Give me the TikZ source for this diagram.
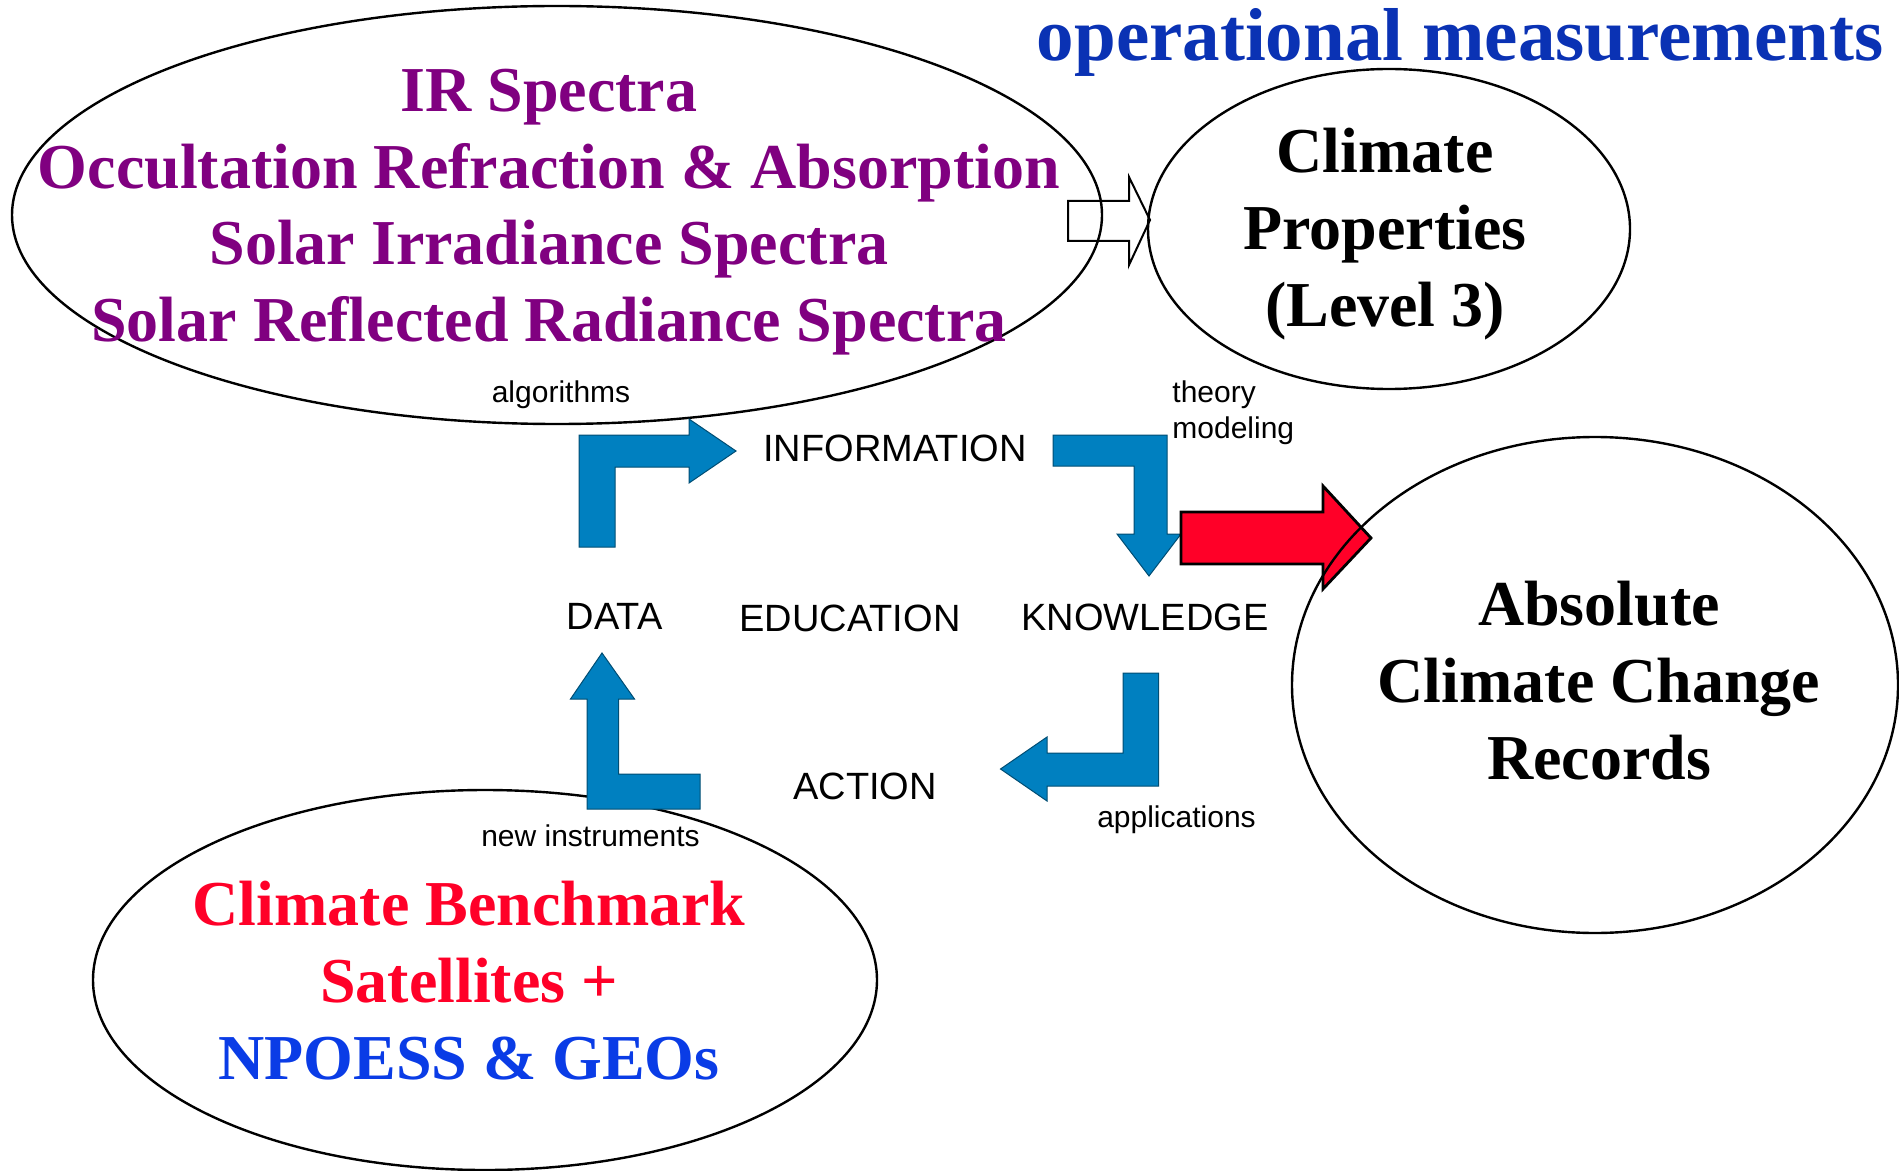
\documentclass[tikz,border=0pt]{standalone}
\usepackage{fontspec}
\setmainfont{Liberation Serif}
\setsansfont{Liberation Sans}
\definecolor{opblue}{RGB}{10,50,180}
\definecolor{specpurple}{RGB}{128,0,128}
\definecolor{benchred}{RGB}{255,0,40}
\definecolor{geoblue}{RGB}{10,60,230}
\definecolor{flowblue}{RGB}{0,128,192}
\tikzset{
  bubble/.style={line width=1.2pt},
  bigtext/.style={font=\fontsize{32}{38.3}\selectfont\bfseries,align=center,inner sep=0pt,anchor=north},
  cycletext/.style={font=\sffamily\fontsize{19}{22}\selectfont,inner sep=0pt},
  smalltext/.style={font=\sffamily\fontsize{15}{18}\selectfont,inner sep=0pt},
  flow/.style={fill=flowblue,draw=flowblue!60!black,line width=.5pt},
}

\begin{document}
\begin{tikzpicture}[x=.5pt,y=-.5pt]
 \useasboundingbox (0,0) rectangle (1899,1171);
 % the three outer bubbles and the observation bubble
 \draw[bubble] (557,215) ellipse [x radius=545,y radius=209];
 \draw[bubble] (1389,229) ellipse [x radius=241,y radius=160];
 \draw[bubble] (485,980) ellipse [x radius=392,y radius=190];
 \node[bigtext,text=specpurple] (spectra) at (549,69) {IR Spectra\\Occultation Refraction \& Absorption\\Solar Irradiance Spectra\\Solar Reflected Radiance Spectra};
 \node[bigtext] (props) at (1385,128) {Climate\\Properties\\(Level 3)};
 \node[bigtext] (records) at (1599,581) {Absolute\\Climate Change\\Records};
 \node[bigtext] (bench) at (469,881) {\textcolor{benchred}{Climate Benchmark}\\\textcolor{benchred}{Satellites +}\\\textcolor{geoblue}{NPOESS \& GEOs}};
 \node[font=\fontsize{37.5}{40}\selectfont\bfseries,text=opblue,inner sep=0pt] (oper) at (1460,42) {operational measurements};
 % hollow arrow
 \draw[line width=1pt] (1068,201)--(1129,201)--(1129,177)--(1150,220)--(1129,265)--(1129,241)--(1068,241)--cycle;
 % the cycle
 \draw[flow] (579,547)--(579,435)--(689,435)--(689,419)--(736,451)--(689,483)--(689,467)--(615,467)--(615,547)--cycle;
 \draw[flow] (1053,435)--(1167,435)--(1167,534)--(1181,534)--(1149,576)--(1117,534)--(1134,534)--(1134,466)--(1053,466)--cycle;
 \draw[flow] (1123,673)--(1158.5,673)--(1158.5,786)--(1047,786)--(1047,801)--(1000.5,769)--(1047,737)--(1047,753)--(1123,753)--cycle;
 \draw[flow] (700,809)--(587,809)--(587,699)--(570.5,699)--(602,653)--(634.5,699)--(618.5,699)--(618.5,774)--(700,774)--cycle;
 \draw[fill=benchred,line width=1.4pt] (1181,512)--(1323,512)--(1323,486)--(1371,538)--(1323,589)--(1323,564)--(1181,564)--cycle;
 \draw[bubble] (1595,685) ellipse [x radius=303,y radius=248];
 \node[cycletext] (info) at (895,448) {INFORMATION};
 \node[cycletext] (data) at (614.5,616) {DATA};
 \node[cycletext] (edu) at (850,618) {EDUCATION};
 \node[cycletext] (know) at (1145,617) {KNOWLEDGE};
 \node[cycletext] (action) at (865,786) {ACTION};
 \node[smalltext] (algo) at (561,395) {algorithms};
 \node[smalltext,align=left,anchor=north west] (theory) at (1172,380) {theory\\modeling};
 \node[smalltext] (appl) at (1176.5,820) {applications};
 \node[smalltext] (instr) at (590.5,836) {new instruments};
\end{tikzpicture}
\end{document}
